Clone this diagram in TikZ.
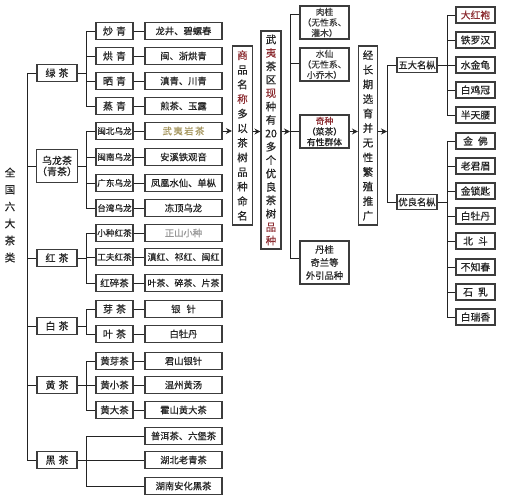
\documentclass[tikz,border=0pt]{standalone}
\usepackage{fontspec}
\newfontfamily\cjk[FakeBold=0.4]{Noto Sans CJK SC}
\usetikzlibrary{arrows.meta}
\definecolor{boxgray}{RGB}{60,60,60}
\definecolor{inkgray}{RGB}{35,35,35}
\definecolor{tred}{RGB}{140,45,50}
\definecolor{olivetext}{RGB}{165,150,95}
\definecolor{softgray}{RGB}{150,150,150}

\begin{document}
\begin{tikzpicture}[x=1pt,y=-1pt,
 box/.style={draw=boxgray,line width=1.1pt,inner sep=0.5pt,text=inkgray,align=center},
 catbox/.style={box,minimum width=40pt,minimum height=17pt,font=\cjk\fontsize{10}{11}\selectfont},
 subbox/.style={box,minimum width=37pt,minimum height=17pt,font=\cjk\fontsize{10}{11}\selectfont},
 subsmall/.style={subbox,font=\cjk\fontsize{8.6}{10}\selectfont},
 leafbox/.style={box,minimum width=77pt,minimum height=17pt,font=\cjk\fontsize{9.3}{11}\selectfont},
 vbox/.style={box,minimum width=20pt,font=\cjk\fontsize{10.5}{14.6}\selectfont},
 kindbox/.style={box,minimum width=49pt,minimum height=33pt,font=\cjk\fontsize{8.8}{10.6}\selectfont},
 namebox/.style={box,minimum width=39pt,minimum height=16pt,font=\cjk\fontsize{9.8}{11}\selectfont},
 groupbox/.style={box,minimum width=40pt,minimum height=15pt,font=\cjk\fontsize{9.3}{11}\selectfont},
 link/.style={draw=inkgray,line width=0.9pt},
 arr/.style={link,-{Stealth[length=6pt,width=6pt]}}]
 \useasboundingbox (0,0) rectangle (506,500);
 % x of the branch lines
 \coordinate (tk) at (27,0);
 \coordinate (bx) at (86,0);
 \coordinate (cx) at (290,0);
 \coordinate (dx) at (387,0);
 \coordinate (ex) at (447,0);

 \node[font=\cjk\fontsize{10.5}{17}\selectfont,text=inkgray,align=center] (quanguo) at (10,215) {全\\国\\六\\大\\茶\\类};

 % six classes
 \node[catbox] (lv) at (57,73) {绿\hspace{3pt}茶};
 \node[catbox,minimum height=33pt] (wl) at (57,166) {乌龙茶\\（青茶）};
 \node[catbox] (hong) at (57,258) {红\hspace{3pt}茶};
 \node[catbox] (bai) at (57,326) {白\hspace{3pt}茶};
 \node[catbox] (huang) at (57,385) {黄\hspace{3pt}茶};
 \node[catbox] (hei) at (57,460) {黑\hspace{3pt}茶};

 % sub classes
 \node[subbox] (chao) at (114.5,31) {炒\hspace{3pt}青};
 \node[subbox] (hongq) at (114.5,56) {烘\hspace{3pt}青};
 \node[subbox] (shai) at (114.5,81) {晒\hspace{3pt}青};
 \node[subbox] (zheng) at (114.5,106) {蒸\hspace{3pt}青};
 \node[subsmall] (mb) at (114.5,131) {闽北乌龙};
 \node[subsmall] (mn) at (114.5,157) {闽南乌龙};
 \node[subsmall] (gd) at (114.5,183) {广东乌龙};
 \node[subsmall] (tw) at (114.5,208) {台湾乌龙};
 \node[subsmall] (xz) at (114.5,233) {小种红茶};
 \node[subsmall] (gf) at (114.5,257) {工夫红茶};
 \node[subbox,font=\cjk\fontsize{9.5}{11}\selectfont] (hs) at (114.5,283) {红碎茶};
 \node[subbox] (ya) at (114.5,309) {芽\hspace{3pt}茶};
 \node[subbox] (ye) at (114.5,334) {叶\hspace{3pt}茶};
 \node[subbox,font=\cjk\fontsize{9.5}{11}\selectfont] (hy) at (114.5,361) {黄芽茶};
 \node[subbox,font=\cjk\fontsize{9.5}{11}\selectfont] (hx) at (114.5,385) {黄小茶};
 \node[subbox,font=\cjk\fontsize{9.5}{11}\selectfont] (hd) at (114.5,410) {黄大茶};

 % teas
 \node[leafbox] (chao-l) at (183.5,31) {龙井、碧螺春};
 \node[leafbox] (hongq-l) at (183.5,56) {闽、浙烘青};
 \node[leafbox] (shai-l) at (183.5,81) {滇青、川青};
 \node[leafbox] (zheng-l) at (183.5,106) {煎茶、玉露};
 \node[leafbox,text=olivetext] (mb-l) at (183.5,131) {武\,夷\,岩\,茶};
 \node[leafbox] (mn-l) at (183.5,157) {安溪铁观音};
 \node[leafbox] (gd-l) at (183.5,183) {凤凰水仙、单枞};
 \node[leafbox] (tw-l) at (183.5,208) {冻顶乌龙};
 \node[leafbox,text=softgray] (xz-l) at (183.5,233) {正山小种};
 \node[leafbox,font=\cjk\fontsize{9}{11}\selectfont] (gf-l) at (183.5,257) {滇红、祁红、闽红};
 \node[leafbox,font=\cjk\fontsize{9}{11}\selectfont] (hs-l) at (183.5,283) {叶茶、碎茶、片茶};
 \node[leafbox] (ya-l) at (183.5,309) {银\hspace{6pt}针};
 \node[leafbox] (ye-l) at (183.5,334) {白牡丹};
 \node[leafbox] (hy-l) at (183.5,361) {君山银针};
 \node[leafbox] (hx-l) at (183.5,385) {温州黄汤};
 \node[leafbox] (hd-l) at (183.5,410) {霍山黄大茶};
 \node[leafbox] (hei-a) at (183.5,436) {普洱茶、六堡茶};
 \node[leafbox] (hei-b) at (183.5,460) {湖北老青茶};
 \node[leafbox] (hei-c) at (183.5,486) {湖南安化黑茶};

 % trunk
 \draw[link] (lv.west -| tk) -- (hei.west -| tk);
 \draw[link] (lv.west) -- (lv.west -| tk) (wl.west) -- (wl.west -| tk) (hong.west) -- (hong.west -| tk)
  (bai.west) -- (bai.west -| tk) (huang.west) -- (huang.west -| tk) (hei.west) -- (hei.west -| tk);

 % green
 \draw[link] (lv.east) -- (lv.east -| bx) (chao.west -| bx) -- (zheng.west -| bx);
 \draw[link] (chao.west) -- (chao.west -| bx) (hongq.west) -- (hongq.west -| bx)
  (shai.west) -- (shai.west -| bx) (zheng.west) -- (zheng.west -| bx);
 \draw[link] (chao) -- (chao-l) (hongq) -- (hongq-l) (shai) -- (shai-l) (zheng) -- (zheng-l);
 % oolong
 \draw[link] (wl.east) -- (wl.east -| bx) (mb.west -| bx) -- (tw.west -| bx);
 \draw[link] (mb.west) -- (mb.west -| bx) (mn.west) -- (mn.west -| bx)
  (gd.west) -- (gd.west -| bx) (tw.west) -- (tw.west -| bx);
 \draw[link] (mb) -- (mb-l) (mn) -- (mn-l) (gd) -- (gd-l) (tw) -- (tw-l);
 % black
 \draw[link] (hong.east) -- (hong.east -| bx) (xz.west -| bx) -- (hs.west -| bx);
 \draw[link] (xz.west) -- (xz.west -| bx) (gf.west) -- (gf.west -| bx) (hs.west) -- (hs.west -| bx);
 \draw[link] (xz) -- (xz-l) (gf) -- (gf-l) (hs) -- (hs-l);
 % white
 \draw[link] (bai.east) -- (bai.east -| bx) (ya.west -| bx) -- (ye.west -| bx);
 \draw[link] (ya.west) -- (ya.west -| bx) (ye.west) -- (ye.west -| bx);
 \draw[link] (ya) -- (ya-l) (ye) -- (ye-l);
 % yellow
 \draw[link] (huang.east) -- (huang.east -| bx) (hy.west -| bx) -- (hd.west -| bx);
 \draw[link] (hy.west) -- (hy.west -| bx) (hx.west) -- (hx.west -| bx) (hd.west) -- (hd.west -| bx);
 \draw[link] (hy) -- (hy-l) (hx) -- (hx-l) (hd) -- (hd-l);
 % dark
 \draw[link] (hei.east) -- (hei.east -| bx) (hei-a.west -| bx) -- (hei-c.west -| bx);
 \draw[link] (hei-a.west) -- (hei-a.west -| bx) (hei-b.west) -- (hei-b.west -| bx) (hei-c.west) -- (hei-c.west -| bx);

 % Wuyi
 \node[vbox,minimum height=179pt] (mingming) at (242.5,135.5)
  {\textcolor{tred}{商}\\品\\名\\\textcolor{tred}{称}\\多\\以\\茶\\树\\品\\种\\命\\名};
 \node[vbox,minimum height=218pt,font=\cjk\fontsize{10.5}{13.4}\selectfont] (xianzhong) at (271,140)
  {武\\\textcolor{tred}{夷}\\茶\\区\\\textcolor{tred}{现}\\种\\有\\20\\多\\个\\优\\良\\茶\\树\\\textcolor{tred}{品}\\\textcolor{tred}{种}};
 \node[kindbox,text=boxgray] (rougui) at (324.5,22.5) {肉桂\\（无性系、\\灌木）};
 \node[kindbox,text=boxgray] (shuixian) at (324.5,64.5) {水仙\\（无性系、\\小乔木）};
 \node[kindbox] (qizhong) at (324.5,131.5) {\textcolor{tred}{奇种}\\（菜茶）\\有性群体};
 \node[kindbox,minimum height=43pt,font=\cjk\fontsize{9.3}{13}\selectfont] (dangui) at (324.5,262.5) {丹桂\\奇兰等\\外引品种};
 \node[vbox,minimum height=179pt,minimum width=19pt] (tuiguang) at (368,135.5)
  {经\\长\\期\\选\\育\\并\\无\\性\\繁\\殖\\推\\广};
 \node[groupbox] (wuda) at (417,65) {五大名枞};
 \node[groupbox] (youliang) at (417,202) {优良名枞};

 \node[namebox,text=tred] (dhp) at (475.5,15) {大红袍};
 \node[namebox] (tlh) at (475.5,40) {铁罗汉};
 \node[namebox] (sjg) at (475.5,65) {水金龟};
 \node[namebox] (bjg) at (475.5,90) {白鸡冠};
 \node[namebox] (bty) at (475.5,115) {半天腰};
 \node[namebox] (jf) at (475.5,141) {金\hspace{5pt}佛};
 \node[namebox] (ljm) at (475.5,166) {老君眉};
 \node[namebox] (jss) at (475.5,191) {金锁匙};
 \node[namebox] (bmd) at (475.5,216) {白牡丹};
 \node[namebox] (bd) at (475.5,241) {北\hspace{5pt}斗};
 \node[namebox] (bzc) at (475.5,267) {不知春};
 \node[namebox] (sr) at (475.5,292) {石\hspace{5pt}乳};
 \node[namebox] (brx) at (475.5,317) {白瑞香};

 \draw[arr] (mb-l.east) -- (mb-l.east -| mingming.west);
 \draw[arr] (mingming.east |- qizhong.west) -- (xianzhong.west |- qizhong.west);
 \draw[arr] (xianzhong.east |- qizhong.west) -- (qizhong.west -| cx);
 \draw[link] (qizhong.west -| cx) -- (qizhong.west);
 \draw[link] (cx |- 0,14) -- (cx |- 0,258);
 \draw[link] (cx |- 0,14) -- (rougui.west |- 0,14) (cx |- 0,63) -- (shuixian.west |- 0,63)
  (cx |- 0,258) -- (dangui.west |- 0,258);
 \draw[arr] (qizhong.east) -- (qizhong.east -| tuiguang.west);
 \draw[arr] (tuiguang.east |- qizhong.east) -- (qizhong.east -| dx);
 \draw[link] (wuda.west) -- (wuda.west -| dx) -- (youliang.west -| dx) -- (youliang.west);

 \draw[link] (wuda.east) -- (wuda.east -| ex) (dhp.west -| ex) -- (bty.west -| ex);
 \draw[link] (dhp.west) -- (dhp.west -| ex) (tlh.west) -- (tlh.west -| ex) (sjg.west) -- (sjg.west -| ex)
  (bjg.west) -- (bjg.west -| ex) (bty.west) -- (bty.west -| ex);
 \draw[link] (youliang.east) -- (youliang.east -| ex) (jf.west -| ex) -- (brx.west -| ex);
 \draw[link] (jf.west) -- (jf.west -| ex) (ljm.west) -- (ljm.west -| ex) (jss.west) -- (jss.west -| ex)
  (bmd.west) -- (bmd.west -| ex) (bd.west) -- (bd.west -| ex) (bzc.west) -- (bzc.west -| ex)
  (sr.west) -- (sr.west -| ex) (brx.west) -- (brx.west -| ex);
\end{tikzpicture}
\end{document}
